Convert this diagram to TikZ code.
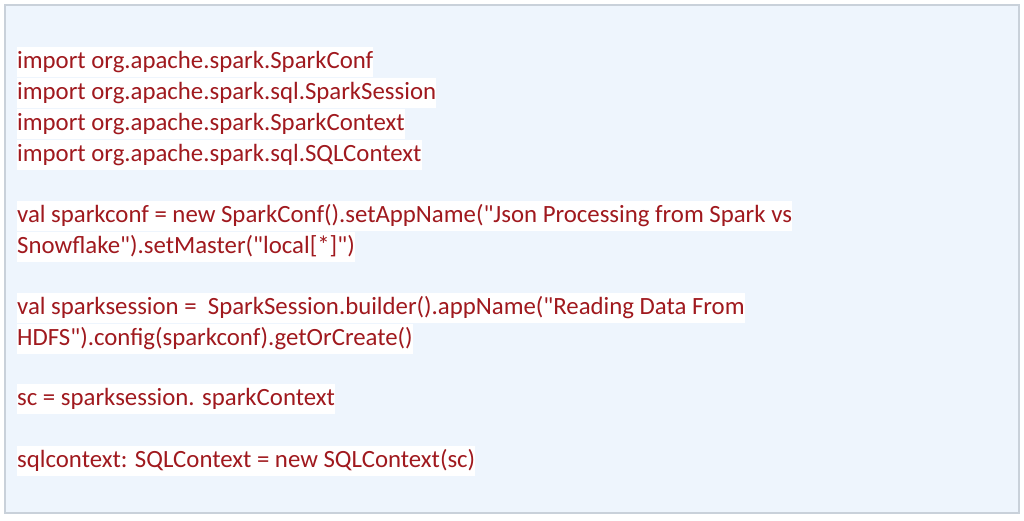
\documentclass[tikz,border=0pt]{standalone}
\usepackage{fontspec}
\newfontfamily\codefont{Carlito}
\definecolor{bgblue}{HTML}{EEF5FD}
\definecolor{frame}{HTML}{C9D1DA}
\definecolor{code}{HTML}{A0191E}
\begin{document}
\begin{tikzpicture}[x=1pt,y=-1pt,
  codeline/.style={anchor=west,fill=white,text=code,inner xsep=0pt,inner ysep=0pt,
    text height=21pt,text depth=9pt,font=\codefont\fontsize{24.8}{28}\selectfont}]
\useasboundingbox (0,0) rectangle (1024,520);
\fill[white] (0,0) rectangle (1024,520);
\draw[frame,fill=bgblue,line width=1.2pt] (5,5) rectangle (1019,513);
\node[codeline] (l1) at (17,62) {import org.apache.spark.SparkConf};
\node[codeline] (l2) at (17,93) {import org.apache.spark.sql.SparkSession};
\node[codeline] (l3) at (17,124) {import org.apache.spark.SparkContext};
\node[codeline] (l4) at (17,155) {import org.apache.spark.sql.SQLContext};
\node[codeline] (l5) at (17,216) {val sparkconf = new SparkConf().setAppName("Json Processing from Spark vs};
\node[codeline] (l6) at (17,247) {Snowflake").setMaster("local[*]")};
\node[codeline] (l7) at (17,308) {val sparksession = \ SparkSession.builder().appName("Reading Data From};
\node[codeline] (l8) at (17,339) {HDFS").config(sparkconf).getOrCreate()};
\node[codeline] (l9) at (17,399) {sc = sparksession. sparkContext};
\node[codeline] (l10) at (17,461) {sqlcontext: SQLContext = new SQLContext(sc)};
\end{tikzpicture}
\end{document}
